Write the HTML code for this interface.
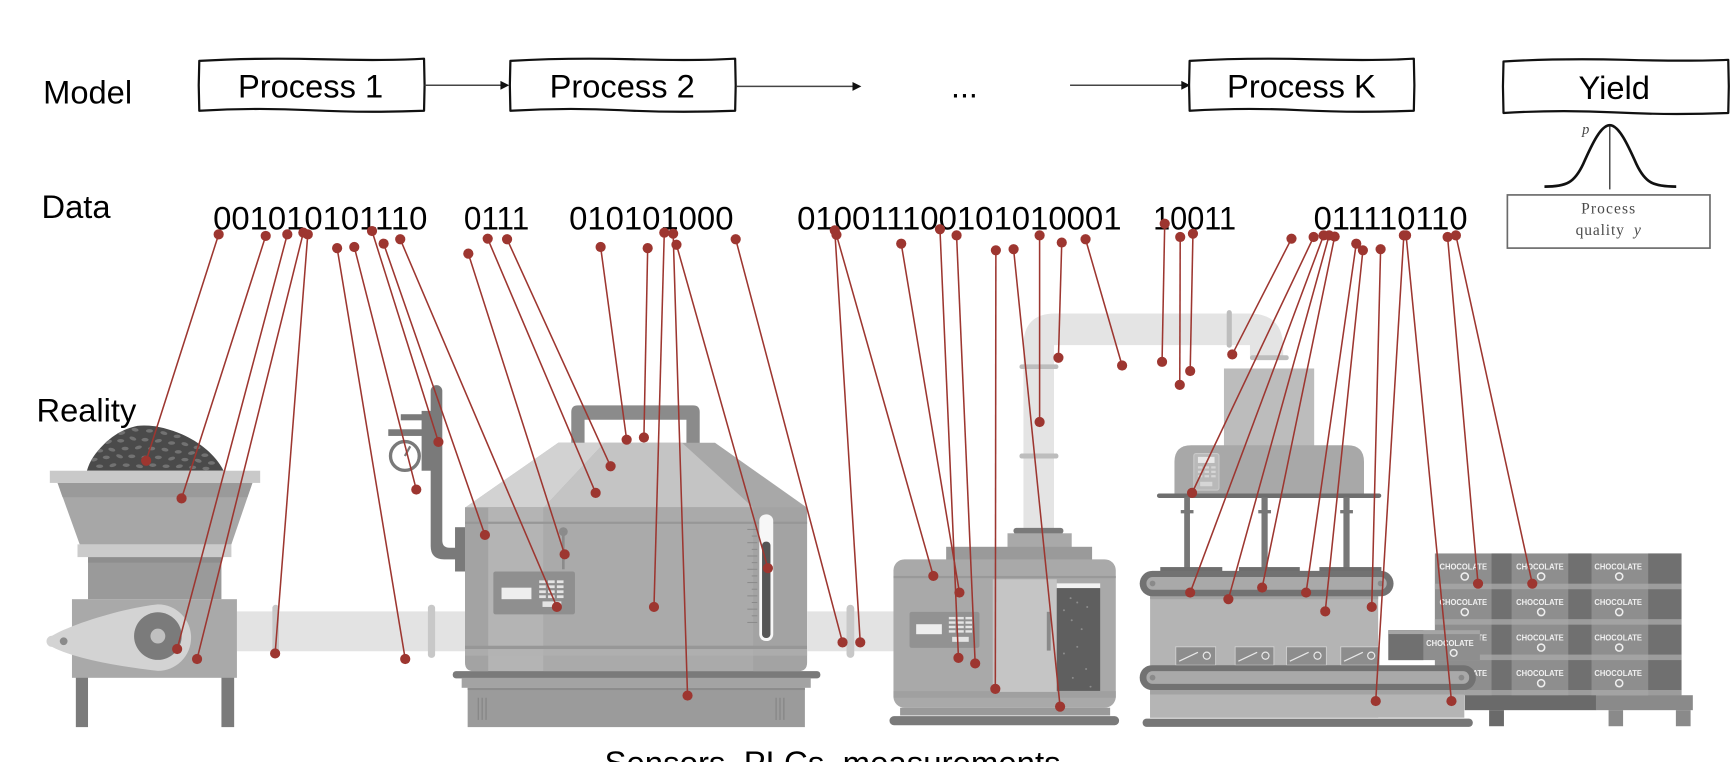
<!DOCTYPE html>
<html><head><meta charset="utf-8"><style>
html,body{margin:0;padding:0;background:#fff;}
svg{display:block;}
text{font-family:"Liberation Sans",Arial,sans-serif;}
</style></head><body>
<svg width="1736" height="762" viewBox="0 0 1568 688" preserveAspectRatio="none" xmlns="http://www.w3.org/2000/svg">
<rect x="0" y="0" width="1568" height="688" fill="#fff"/>
<defs>
<clipPath id="mound"><path d="M78.5,425 C81,416 86,409 94,401 C102,393 112,387 124,384.5 C138,383 152,387 164,392 C180,399 194,410 202,425 Z"/></clipPath>
</defs>

<text x="39" y="93.5" font-size="29.5" fill="#000">Model</text>
<text x="37.5" y="197" font-size="29.5" fill="#000">Data</text>
<text x="33" y="380.5" font-size="29.5" fill="#000">Reality</text>

<g fill="#fff" stroke="#111" stroke-width="2" stroke-linejoin="round">
<path d="M180,55 Q230,52 290,53.5 T383,53 L383.5,77 L383,100 Q330,102 280,99.5 T180,100 L179.5,77 Z"/>
<path d="M461,55 Q511,52 571,53.5 T664,53 L664.5,77 L664,100 Q611,102 561,99.5 T461,100 L460.5,77 Z"/>
<path d="M1074.5,55 Q1124,52 1184,53.5 T1277,53 L1277.5,77 L1277,100 Q1224,102 1174,99.5 T1074.5,100 L1074,77 Z"/>
<path d="M1358,55.5 Q1408,52.5 1468,54 T1561,54 L1561.5,78 L1561,102 Q1508,104 1458,101.5 T1358,102 L1357.5,78 Z"/>
</g>
<text x="280.5" y="88" font-size="29.5" text-anchor="middle" fill="#000">Process 1</text>
<text x="562" y="88" font-size="29.5" text-anchor="middle" fill="#000">Process 2</text>
<text x="1175.5" y="88" font-size="29.5" text-anchor="middle" fill="#000">Process K</text>
<text x="1458" y="89.5" font-size="29.5" text-anchor="middle" fill="#000">Yield</text>
<text x="859" y="88" font-size="29" fill="#000">...</text>

<g stroke="#444" stroke-width="1.4">
<line x1="383.5" y1="77" x2="453" y2="77"/>
<line x1="665" y1="78" x2="771" y2="78"/>
<line x1="966.5" y1="77" x2="1068" y2="77"/>
</g>
<g fill="#111">
<polygon points="460,77 452,73 452,81"/>
<polygon points="778,78 770,74 770,82"/>
<polygon points="1075,77 1067,73 1067,81"/>
</g>

<path d="M1395,168.5 C1415,168.5 1422,165 1430,148 C1438,130 1446,113 1454,113 C1462,113 1470,130 1478,148 C1486,165 1493,168.5 1514,168.5" fill="none" stroke="#111" stroke-width="2.4"/>
<line x1="1454" y1="114" x2="1454" y2="171" stroke="#333" stroke-width="1.2"/>
<text x="1429" y="121" font-size="13" font-style="italic" fill="#444" style="font-family:'Liberation Serif',serif">p</text>
<rect x="1361.5" y="176" width="183" height="48" fill="#fff" stroke="#6a6a6a" stroke-width="1.5"/>
<text x="1453" y="193" font-size="14" fill="#4a4a4a" text-anchor="middle" style="font-family:'Liberation Serif',serif" letter-spacing="1">Process</text>
<text x="1453" y="212" font-size="14" fill="#4a4a4a" text-anchor="middle" style="font-family:'Liberation Serif',serif" letter-spacing="0.8">quality <tspan font-style="italic" dx="4">y</tspan></text>

<g font-size="29" fill="#000">
<text x="192.5" y="207" textLength="193.5" lengthAdjust="spacingAndGlyphs">001010101110</text>
<text x="419" y="207" textLength="59" lengthAdjust="spacingAndGlyphs">0111</text>
<text x="514" y="207" textLength="148.5" lengthAdjust="spacingAndGlyphs">010101000</text>
<text x="720" y="207" textLength="293" lengthAdjust="spacingAndGlyphs">010011100101010001</text>
<text x="1041.5" y="207" textLength="75" lengthAdjust="spacingAndGlyphs">10011</text>
<text x="1186.5" y="207" textLength="139" lengthAdjust="spacingAndGlyphs">011110110</text>
</g>

<!-- Machine 1 -->
<rect x="68.5" y="608" width="11" height="48.5" fill="#7b7b7b"/>
<rect x="200" y="608" width="11.5" height="48.5" fill="#7b7b7b"/>
<rect x="214" y="552" width="210" height="36" fill="#e3e3e3"/>
<rect x="246" y="546" width="6" height="48" rx="3" fill="#c8c8c8"/>
<rect x="386.5" y="546" width="6.5" height="48" rx="3" fill="#c8c8c8"/>
<rect x="65" y="541" width="149" height="71" fill="#a9a9a9"/>
<rect x="79.5" y="503" width="120.5" height="38" fill="#9a9a9a"/>
<rect x="79.5" y="503" width="120.5" height="5" fill="#8e8e8e"/>
<rect x="70" y="491.5" width="139" height="11.5" fill="#cbcbcb"/>
<polygon points="52,436 228,436 209,491.5 72,491.5" fill="#a7a7a7"/>
<polygon points="52,436 228,436 223.5,449 56.5,449" fill="#9a9a9a"/>
<path d="M78.5,425 C81,416 86,409 94,401 C102,393 112,387 124,384.5 C138,383 152,387 164,392 C180,399 194,410 202,425 Z" fill="#4a4a4a"/>
<g clip-path="url(#mound)" fill="#727272">
<ellipse cx="110" cy="391" rx="3.2" ry="1.6" transform="rotate(-15 110 391)"/>
<ellipse cx="122" cy="388" rx="3.2" ry="1.6" transform="rotate(10 122 388)"/>
<ellipse cx="135" cy="389" rx="3.2" ry="1.6"/>
<ellipse cx="148" cy="391" rx="3.2" ry="1.6" transform="rotate(15 148 391)"/>
<ellipse cx="160" cy="394" rx="3.2" ry="1.6"/>
<ellipse cx="98" cy="399" rx="3.2" ry="1.6" transform="rotate(-20 98 399)"/>
<ellipse cx="109" cy="398" rx="3.2" ry="1.6"/>
<ellipse cx="120" cy="396" rx="3.2" ry="1.6" transform="rotate(20 120 396)"/>
<ellipse cx="131" cy="397" rx="3.2" ry="1.6"/>
<ellipse cx="143" cy="398" rx="3.2" ry="1.6" transform="rotate(-10 143 398)"/>
<ellipse cx="155" cy="400" rx="3.2" ry="1.6"/>
<ellipse cx="167" cy="401" rx="3.2" ry="1.6" transform="rotate(15 167 401)"/>
<ellipse cx="178" cy="404" rx="3.2" ry="1.6"/>
<ellipse cx="90" cy="407" rx="3.2" ry="1.6"/>
<ellipse cx="101" cy="406" rx="3.2" ry="1.6" transform="rotate(15 101 406)"/>
<ellipse cx="113" cy="405" rx="3.2" ry="1.6"/>
<ellipse cx="125" cy="404" rx="3.2" ry="1.6" transform="rotate(-15 125 404)"/>
<ellipse cx="137" cy="405" rx="3.2" ry="1.6"/>
<ellipse cx="149" cy="406" rx="3.2" ry="1.6" transform="rotate(10 149 406)"/>
<ellipse cx="161" cy="408" rx="3.2" ry="1.6"/>
<ellipse cx="173" cy="409" rx="3.2" ry="1.6" transform="rotate(-10 173 409)"/>
<ellipse cx="185" cy="411" rx="3.2" ry="1.6"/>
<ellipse cx="85" cy="415" rx="3.2" ry="1.6" transform="rotate(-10 85 415)"/>
<ellipse cx="96" cy="413" rx="3.2" ry="1.6"/>
<ellipse cx="108" cy="412" rx="3.2" ry="1.6" transform="rotate(20 108 412)"/>
<ellipse cx="119" cy="412" rx="3.2" ry="1.6"/>
<ellipse cx="131" cy="413" rx="3.2" ry="1.6"/>
<ellipse cx="143" cy="413" rx="3.2" ry="1.6"/>
<ellipse cx="155" cy="414" rx="3.2" ry="1.6" transform="rotate(-15 155 414)"/>
<ellipse cx="167" cy="415" rx="3.2" ry="1.6"/>
<ellipse cx="179" cy="416" rx="3.2" ry="1.6" transform="rotate(15 179 416)"/>
<ellipse cx="191" cy="418" rx="3.2" ry="1.6"/>
<ellipse cx="90" cy="421" rx="3.2" ry="1.6"/>
<ellipse cx="102" cy="420" rx="3.2" ry="1.6" transform="rotate(-15 102 420)"/>
<ellipse cx="114" cy="420" rx="3.2" ry="1.6"/>
<ellipse cx="126" cy="421" rx="3.2" ry="1.6" transform="rotate(10 126 421)"/>
<ellipse cx="138" cy="420" rx="3.2" ry="1.6"/>
<ellipse cx="150" cy="421" rx="3.2" ry="1.6"/>
<ellipse cx="162" cy="421" rx="3.2" ry="1.6" transform="rotate(-10 162 421)"/>
<ellipse cx="174" cy="422" rx="3.2" ry="1.6"/>
<ellipse cx="186" cy="423" rx="3.2" ry="1.6"/>
</g>
<rect x="45" y="425" width="190" height="11" fill="#c9c9c9"/>
<path d="M47,574 C70,561 118,548 142.6,545.7 A30 30 0 0 1 142.6,605.7 C118,603 70,596 47,584 A5 5 0 0 1 47,574 Z" fill="#d3d3d3"/>
<circle cx="57.5" cy="579" r="3.5" fill="#8a8a8a"/>
<circle cx="142.6" cy="574.3" r="21.5" fill="#7b7b7b"/>
<circle cx="142.6" cy="574.3" r="6.7" fill="#c0c0c0"/>

<!-- Machine 2 -->
<path d="M389,353 A5 5 0 0 1 399.5,353 L399.5,488 Q399.5,494.5 406,494.5 L419,494.5 L419,505 L401,505 Q389,505 389,493 Z" fill="#7a7a7a"/>
<rect x="380.8" y="371" width="9" height="54" fill="#7a7a7a"/>
<rect x="350.7" y="387.6" width="31" height="6" fill="#7a7a7a"/>
<rect x="362" y="374" width="20" height="5.5" fill="#7a7a7a"/>
<circle cx="365.7" cy="411.7" r="13" fill="#fff" stroke="#7a7a7a" stroke-width="3"/>
<line x1="365.7" y1="411.7" x2="370.5" y2="403" stroke="#7a7a7a" stroke-width="2"/>
<rect x="411" y="476" width="9" height="40" fill="#7a7a7a"/>
<path d="M516,372 Q516,366 522,366 L626,366 Q632,366 632,372 L632,402 L620,402 L620,379 L528,379 L528,402 L516,402 Z" fill="#8b8b8b"/>
<polygon points="504.3,399.7 645.8,399.7 729,458.4 420,458.4" fill="#a8a8a8"/>
<polygon points="504.3,399.7 546,399.7 491,458.4 420,458.4" fill="#d2d2d2"/>
<polygon points="546,399.7 616,399.7 680.4,458.4 491,458.4" fill="#c4c4c4"/>
<path d="M420,458 L729,458 L729,598 Q729,606 721,606 L428,606 Q420,606 420,598 Z" fill="#a3a3a3"/>
<rect x="441" y="458" width="239.4" height="148" fill="#aaaaaa"/>
<rect x="441" y="458" width="49.7" height="148" fill="#b4b4b4"/>
<rect x="420" y="471" width="309" height="2" fill="#979797"/>
<rect x="420" y="583" width="309" height="3" fill="#979797"/>
<rect x="420" y="586" width="309" height="6" fill="#b2b2b2" opacity="0.6"/>
<circle cx="508.8" cy="480" r="4" fill="#8b8b8b"/>
<rect x="507.6" y="480" width="2.4" height="34" fill="#8b8b8b"/>
<rect x="445.6" y="516" width="73.7" height="38.7" rx="2" fill="#8f8f8f"/>
<rect x="453" y="530.6" width="27" height="10.4" fill="#eeeeee"/>
<g fill="#e4e4e4">
<rect x="487" y="524" width="6" height="2.5"/><rect x="495" y="524" width="6" height="2.5"/><rect x="503" y="524" width="6" height="2.5"/>
<rect x="487" y="528.5" width="6" height="2.5"/><rect x="495" y="528.5" width="6" height="2.5"/><rect x="503" y="528.5" width="6" height="2.5"/>
<rect x="487" y="533" width="6" height="2.5"/><rect x="495" y="533" width="6" height="2.5"/><rect x="503" y="533" width="6" height="2.5"/>
<rect x="487" y="537.5" width="6" height="2.5"/><rect x="495" y="537.5" width="6" height="2.5"/><rect x="503" y="537.5" width="6" height="2.5"/>
<rect x="490" y="543" width="17" height="5"/>
</g>
<g stroke="#8a8a8a" stroke-width="0.9">
<line x1="675" y1="478" x2="684" y2="478"/><line x1="679" y1="484" x2="684" y2="484"/><line x1="675" y1="490" x2="684" y2="490"/><line x1="679" y1="496" x2="684" y2="496"/><line x1="675" y1="502" x2="684" y2="502"/><line x1="679" y1="508" x2="684" y2="508"/><line x1="675" y1="514" x2="684" y2="514"/><line x1="679" y1="520" x2="684" y2="520"/><line x1="675" y1="526" x2="684" y2="526"/><line x1="679" y1="532" x2="684" y2="532"/><line x1="675" y1="538" x2="684" y2="538"/><line x1="679" y1="544" x2="684" y2="544"/><line x1="675" y1="550" x2="684" y2="550"/><line x1="679" y1="556" x2="684" y2="556"/><line x1="675" y1="562" x2="684" y2="562"/>
</g>
<rect x="685.8" y="464.4" width="12.6" height="114.4" rx="6" fill="#f7f7f7"/>
<rect x="688.3" y="489" width="7.6" height="87" rx="3.5" fill="#555"/>
<rect x="408.9" y="606" width="332.1" height="6.5" rx="3" fill="#7a7a7a"/>
<rect x="417" y="612" width="315.3" height="9" fill="#a3a3a3"/>
<rect x="422.4" y="621" width="304.6" height="35.5" fill="#9b9b9b"/>
<rect x="422.4" y="621" width="304.6" height="2" fill="#8c8c8c"/>
<g stroke="#878787" stroke-width="1.2">
<line x1="432" y1="630" x2="432" y2="650"/><line x1="435.5" y1="630" x2="435.5" y2="650"/><line x1="439" y1="630" x2="439" y2="650"/>
<line x1="701" y1="630" x2="701" y2="650"/><line x1="704.5" y1="630" x2="704.5" y2="650"/><line x1="708" y1="630" x2="708" y2="650"/>
</g>
<rect x="729" y="552" width="80" height="36" fill="#e3e3e3"/>
<rect x="764.6" y="546" width="7" height="48" rx="3.5" fill="#c8c8c8"/>

<!-- Machine 3 -->
<path d="M924.4,479 L924.4,312 Q924.4,283 953,283 L1128,283 Q1159,283 1159,314 L1159,322 L1129,322 L1129,311.6 L952,311.6 L952,479 Z" fill="#e4e4e4"/>
<rect x="1108" y="280" width="4.6" height="34" rx="2.3" fill="#bdbdbd"/>
<rect x="1129" y="320.7" width="35" height="4.5" rx="2" fill="#bdbdbd"/>
<rect x="920.8" y="329" width="35.2" height="4.2" rx="2" fill="#bdbdbd"/>
<rect x="920.8" y="409.5" width="35.2" height="4.5" rx="2" fill="#bdbdbd"/>
<rect x="915.4" y="476.6" width="45.1" height="5.5" rx="2.5" fill="#7a7a7a"/>
<rect x="910" y="481.5" width="58" height="12.5" fill="#a9a9a9"/>
<rect x="854.6" y="493.7" width="131.8" height="12.3" fill="#9a9a9a"/>
<rect x="807" y="505" width="200.8" height="134" rx="10" fill="#a9a9a9"/>
<rect x="807" y="520" width="200.8" height="2" fill="#999"/>
<rect x="807" y="624" width="200.8" height="6" fill="#a0a0a0"/>
<rect x="821.5" y="552.4" width="63.2" height="32.6" rx="2" fill="#929292"/>
<rect x="827.5" y="563.6" width="23.2" height="9" fill="#eeeeee"/>
<g fill="#e4e4e4">
<rect x="857" y="557" width="6" height="2.2"/><rect x="864.5" y="557" width="6" height="2.2"/><rect x="872" y="557" width="6" height="2.2"/>
<rect x="857" y="561" width="6" height="2.2"/><rect x="864.5" y="561" width="6" height="2.2"/><rect x="872" y="561" width="6" height="2.2"/>
<rect x="857" y="565" width="6" height="2.2"/><rect x="864.5" y="565" width="6" height="2.2"/><rect x="872" y="565" width="6" height="2.2"/>
<rect x="857" y="569" width="6" height="2.2"/><rect x="864.5" y="569" width="6" height="2.2"/><rect x="872" y="569" width="6" height="2.2"/>
<rect x="860" y="575" width="15" height="4.5"/>
</g>
<rect x="896.7" y="523" width="57.8" height="101.7" fill="#c5c5c5"/>
<rect x="945.5" y="552.4" width="3.5" height="35" fill="#8a8a8a"/>
<rect x="954.5" y="526.7" width="39.2" height="4.5" fill="#f2f2f2"/>
<rect x="954.5" y="531" width="39.2" height="92.8" fill="#5f5f5f"/>
<g fill="#8c8c8c">
<circle cx="967" cy="540" r="0.9"/><circle cx="973" cy="544" r="0.9"/><circle cx="961" cy="551" r="0.9"/><circle cx="982" cy="548" r="0.9"/><circle cx="968" cy="560" r="0.9"/><circle cx="977" cy="568" r="0.9"/><circle cx="961" cy="590" r="0.9"/><circle cx="973" cy="584" r="0.9"/><circle cx="981" cy="604" r="0.9"/><circle cx="969" cy="612" r="0.9"/><circle cx="985" cy="620" r="0.9"/>
</g>
<rect x="813" y="639" width="189.7" height="7" fill="#9a9a9a"/>
<rect x="803.4" y="646.6" width="207.4" height="8.2" rx="4" fill="#7a7a7a"/>

<!-- Pallet -->
<rect x="1296" y="499.7" width="222.8" height="128" fill="#8e8e8e"/>
<g fill="#707070">
<rect x="1347.2" y="499.7" width="18.1" height="128"/>
<rect x="1416.5" y="499.7" width="21" height="128"/>
<rect x="1488.7" y="499.7" width="30.1" height="128"/>
</g>
<g fill="#ababab" opacity="0.75">
<rect x="1296" y="527" width="222.8" height="5"/>
<rect x="1296" y="559" width="222.8" height="5"/>
<rect x="1296" y="591" width="222.8" height="5"/>
<rect x="1296" y="623" width="222.8" height="4.7"/>
</g>
<g font-size="7.2" font-weight="bold" fill="#f0f0f0" text-anchor="middle">
<text x="1321.7" y="514.2" textLength="43" lengthAdjust="spacingAndGlyphs">CHOCOLATE</text>
<text x="1390.9" y="514.2" textLength="43" lengthAdjust="spacingAndGlyphs">CHOCOLATE</text>
<text x="1461.6" y="514.2" textLength="43" lengthAdjust="spacingAndGlyphs">CHOCOLATE</text>
<text x="1321.7" y="546.3" textLength="43" lengthAdjust="spacingAndGlyphs">CHOCOLATE</text>
<text x="1390.9" y="546.3" textLength="43" lengthAdjust="spacingAndGlyphs">CHOCOLATE</text>
<text x="1461.6" y="546.3" textLength="43" lengthAdjust="spacingAndGlyphs">CHOCOLATE</text>
<text x="1321.7" y="578.4" textLength="43" lengthAdjust="spacingAndGlyphs">CHOCOLATE</text>
<text x="1390.9" y="578.4" textLength="43" lengthAdjust="spacingAndGlyphs">CHOCOLATE</text>
<text x="1461.6" y="578.4" textLength="43" lengthAdjust="spacingAndGlyphs">CHOCOLATE</text>
<text x="1321.7" y="610.5" textLength="43" lengthAdjust="spacingAndGlyphs">CHOCOLATE</text>
<text x="1390.9" y="610.5" textLength="43" lengthAdjust="spacingAndGlyphs">CHOCOLATE</text>
<text x="1461.6" y="610.5" textLength="43" lengthAdjust="spacingAndGlyphs">CHOCOLATE</text>
</g>
<g fill="none" stroke="#eeeeee" stroke-width="1.4">
<circle cx="1323" cy="520.5" r="3.2"/><circle cx="1392" cy="520.5" r="3.2"/><circle cx="1462.5" cy="520.5" r="3.2"/>
<circle cx="1323" cy="552.6" r="3.2"/><circle cx="1392" cy="552.6" r="3.2"/><circle cx="1462.5" cy="552.6" r="3.2"/>
<circle cx="1323" cy="584.7" r="3.2"/><circle cx="1392" cy="584.7" r="3.2"/><circle cx="1462.5" cy="584.7" r="3.2"/>
<circle cx="1392" cy="616.8" r="3.2"/><circle cx="1462.5" cy="616.8" r="3.2"/>
</g>
<rect x="1254" y="569" width="82.7" height="27" fill="#8e8e8e"/>
<rect x="1254" y="569" width="31.6" height="27" fill="#707070"/>
<rect x="1254" y="569" width="82.7" height="3.5" fill="#a5a5a5"/>
<text x="1309.6" y="583.5" font-size="7.2" font-weight="bold" fill="#f0f0f0" text-anchor="middle" textLength="43" lengthAdjust="spacingAndGlyphs">CHOCOLATE</text>
<circle cx="1313" cy="589.5" r="3" fill="none" stroke="#eee" stroke-width="1.3"/>
<rect x="1323" y="627.7" width="118.6" height="13.5" fill="#6a6a6a"/>
<rect x="1441.5" y="627.7" width="87.5" height="13.5" fill="#8a8a8a"/>
<rect x="1345" y="641.2" width="13.4" height="14.5" fill="#6a6a6a"/>
<rect x="1452.9" y="641.2" width="13.1" height="14.5" fill="#8a8a8a"/>
<rect x="1513.7" y="641.2" width="13.3" height="14.5" fill="#8a8a8a"/>

<!-- Machine 4 -->
<rect x="1105.5" y="332.7" width="81.5" height="70" fill="#bcbcbc"/>
<path d="M1060.8,446 L1060.8,417 Q1060.8,402 1076,402 L1217,402 Q1232,402 1232,417 L1232,446 Z" fill="#a8a8a8"/>
<rect x="1078.3" y="409.5" width="22.7" height="33" rx="2" fill="#b9b9b9" stroke="#c9c9c9" stroke-width="1"/>
<rect x="1082" y="412.5" width="15" height="5.5" fill="#e8e8e8"/>
<g fill="#d6d6d6">
<rect x="1082" y="421" width="4" height="2"/><rect x="1088" y="421" width="4" height="2"/><rect x="1094" y="421" width="4" height="2"/>
<rect x="1082" y="425" width="4" height="2"/><rect x="1088" y="425" width="4" height="2"/><rect x="1094" y="425" width="4" height="2"/>
<rect x="1082" y="429" width="4" height="2"/><rect x="1088" y="429" width="4" height="2"/><rect x="1094" y="429" width="4" height="2"/>
<rect x="1084" y="435" width="11" height="4"/>
</g>
<rect x="1045" y="445.6" width="202.6" height="4" rx="2" fill="#6e6e6e"/>
<g fill="#777">
<rect x="1069.6" y="449" width="5.2" height="64"/>
<rect x="1139.4" y="449" width="5.6" height="64"/>
<rect x="1213.4" y="449" width="5.6" height="64"/>
<rect x="1066.5" y="460.5" width="11.5" height="3"/>
<rect x="1136.5" y="460.5" width="11.5" height="3"/>
<rect x="1210.5" y="460.5" width="11.5" height="3"/>
</g>
<g fill="#6e6e6e">
<rect x="1048" y="512" width="56" height="5"/>
<rect x="1119" y="512" width="55" height="5"/>
<rect x="1191.7" y="512" width="56" height="5"/>
</g>
<rect x="1038.8" y="536" width="206" height="112" fill="#b4b4b4"/>
<rect x="1038.8" y="538" width="206" height="3" fill="#a2a2a2"/>
<rect x="1029.4" y="515.4" width="229.3" height="23" rx="11.5" fill="#727272"/>
<rect x="1035.5" y="521" width="217" height="11.5" rx="5.5" fill="#a9a9a9"/>
<circle cx="1041" cy="526.8" r="2.6" fill="#8a8a8a"/>
<circle cx="1247" cy="526.8" r="2.6" fill="#8a8a8a"/>
<g fill="#8d8d8d" stroke="#d0d0d0" stroke-width="0.8">
<rect x="1062" y="584" width="36" height="16.6"/>
<rect x="1115.6" y="584" width="35" height="16.6"/>
<rect x="1162" y="584" width="36" height="16.6"/>
<rect x="1211" y="584" width="35" height="16.6"/>
</g>
<g stroke="#e8e8e8" stroke-width="1.1" fill="none">
<line x1="1065" y1="597" x2="1082" y2="589"/><circle cx="1090" cy="592" r="3.2"/>
<line x1="1118.5" y1="597" x2="1135.5" y2="589"/><circle cx="1143" cy="592" r="3.2"/>
<line x1="1165" y1="597" x2="1182" y2="589"/><circle cx="1190" cy="592" r="3.2"/>
<line x1="1214" y1="597" x2="1231" y2="589"/><circle cx="1238.5" cy="592" r="3.2"/>
</g>
<rect x="1038.8" y="621" width="283.8" height="27" fill="#b5b5b5"/>
<rect x="1029.4" y="600.6" width="303.6" height="22.4" rx="11" fill="#727272"/>
<rect x="1035.5" y="606" width="291.5" height="11.5" rx="5.5" fill="#a9a9a9"/>
<circle cx="1041" cy="611.8" r="2.6" fill="#8a8a8a"/>
<circle cx="1320" cy="611.8" r="2.6" fill="#8a8a8a"/>
<rect x="1038.8" y="623" width="283.8" height="4" fill="#a3a3a3"/>
<rect x="1032" y="648.8" width="298.3" height="7.5" rx="3.7" fill="#777"/>

<text x="546" y="699" font-size="29.5" fill="#000" textLength="412" lengthAdjust="spacingAndGlyphs">Sensors, PLCs, measurements</text>

<!-- connectors -->
<g stroke="#9d3630" stroke-width="1.4" fill="none">
<path d="M197.5,211.6 L132,416"/>
<path d="M240,213 L164,450"/>
<path d="M259.5,211.6 L160,586"/>
<path d="M274,210 L178,595"/>
<path d="M278,211.6 L248.5,590"/>
<path d="M304.5,224 L366,595"/>
<path d="M320,223 L376,442"/>
<path d="M336,208.6 L396,399"/>
<path d="M346.5,220 L438,483"/>
<path d="M361.5,216 L503,548"/>
<path d="M423,229 L510,500.5"/>
<path d="M440.5,215.5 L538,445"/>
<path d="M458,216 L551.5,421"/>
<path d="M542.5,223 L566,397"/>
<path d="M585,224 L581.6,395"/>
<path d="M600,210 L590.7,548"/>
<path d="M608,211 L621,628"/>
<path d="M611,221 L693.6,513"/>
<path d="M664.5,216 L761,580"/>
<path d="M754,208 L777,580"/>
<path d="M755.5,212 L843,520"/>
<path d="M814,220 L866.6,535"/>
<path d="M849,207 L865.7,594"/>
<path d="M864,212.5 L880.8,599"/>
<path d="M899.5,226 L899,622"/>
<path d="M915.5,225 L957.5,638"/>
<path d="M939,212.5 L939,381"/>
<path d="M959,219 L956,323"/>
<path d="M980.5,216 L1013.5,330"/>
<path d="M1052,202 L1049.6,326.7"/>
<path d="M1066,214 L1065.6,347.5"/>
<path d="M1077.5,211 L1075,335"/>
<path d="M1166.5,215.5 L1113,320"/>
<path d="M1186.5,214 L1076.7,445"/>
<path d="M1195.5,212.5 L1075,535"/>
<path d="M1200.5,212.5 L1109.5,541"/>
<path d="M1205.5,213.6 L1140,530.5"/>
<path d="M1225,220 L1179.7,535"/>
<path d="M1231,226 L1197,552"/>
<path d="M1247,225 L1239,548"/>
<path d="M1268,212.5 L1242.6,633"/>
<path d="M1270,212.5 L1311,633"/>
<path d="M1307.5,214 L1335,527"/>
<path d="M1315,212.5 L1384,527"/>
</g>
<g fill="#9d3630">
<circle cx="197.5" cy="211.6" r="4.6"/><circle cx="132" cy="416" r="4.6"/>
<circle cx="240" cy="213" r="4.6"/><circle cx="164" cy="450" r="4.6"/>
<circle cx="259.5" cy="211.6" r="4.6"/><circle cx="160" cy="586" r="4.6"/>
<circle cx="274" cy="210" r="4.6"/><circle cx="178" cy="595" r="4.6"/>
<circle cx="278" cy="211.6" r="4.6"/><circle cx="248.5" cy="590" r="4.6"/>
<circle cx="304.5" cy="224" r="4.6"/><circle cx="366" cy="595" r="4.6"/>
<circle cx="320" cy="223" r="4.6"/><circle cx="376" cy="442" r="4.6"/>
<circle cx="336" cy="208.6" r="4.6"/><circle cx="396" cy="399" r="4.6"/>
<circle cx="346.5" cy="220" r="4.6"/><circle cx="438" cy="483" r="4.6"/>
<circle cx="361.5" cy="216" r="4.6"/><circle cx="503" cy="548" r="4.6"/>
<circle cx="423" cy="229" r="4.6"/><circle cx="510" cy="500.5" r="4.6"/>
<circle cx="440.5" cy="215.5" r="4.6"/><circle cx="538" cy="445" r="4.6"/>
<circle cx="458" cy="216" r="4.6"/><circle cx="551.5" cy="421" r="4.6"/>
<circle cx="542.5" cy="223" r="4.6"/><circle cx="566" cy="397" r="4.6"/>
<circle cx="585" cy="224" r="4.6"/><circle cx="581.6" cy="395" r="4.6"/>
<circle cx="600" cy="210" r="4.6"/><circle cx="590.7" cy="548" r="4.6"/>
<circle cx="608" cy="211" r="4.6"/><circle cx="621" cy="628" r="4.6"/>
<circle cx="611" cy="221" r="4.6"/><circle cx="693.6" cy="513" r="4.6"/>
<circle cx="664.5" cy="216" r="4.6"/><circle cx="761" cy="580" r="4.6"/>
<circle cx="754" cy="208" r="4.6"/><circle cx="777" cy="580" r="4.6"/>
<circle cx="755.5" cy="212" r="4.6"/><circle cx="843" cy="520" r="4.6"/>
<circle cx="814" cy="220" r="4.6"/><circle cx="866.6" cy="535" r="4.6"/>
<circle cx="849" cy="207" r="4.6"/><circle cx="865.7" cy="594" r="4.6"/>
<circle cx="864" cy="212.5" r="4.6"/><circle cx="880.8" cy="599" r="4.6"/>
<circle cx="899.5" cy="226" r="4.6"/><circle cx="899" cy="622" r="4.6"/>
<circle cx="915.5" cy="225" r="4.6"/><circle cx="957.5" cy="638" r="4.6"/>
<circle cx="939" cy="212.5" r="4.6"/><circle cx="939" cy="381" r="4.6"/>
<circle cx="959" cy="219" r="4.6"/><circle cx="956" cy="323" r="4.6"/>
<circle cx="980.5" cy="216" r="4.6"/><circle cx="1013.5" cy="330" r="4.6"/>
<circle cx="1052" cy="202" r="4.6"/><circle cx="1049.6" cy="326.7" r="4.6"/>
<circle cx="1066" cy="214" r="4.6"/><circle cx="1065.6" cy="347.5" r="4.6"/>
<circle cx="1077.5" cy="211" r="4.6"/><circle cx="1075" cy="335" r="4.6"/>
<circle cx="1166.5" cy="215.5" r="4.6"/><circle cx="1113" cy="320" r="4.6"/>
<circle cx="1186.5" cy="214" r="4.6"/><circle cx="1076.7" cy="445" r="4.6"/>
<circle cx="1195.5" cy="212.5" r="4.6"/><circle cx="1075" cy="535" r="4.6"/>
<circle cx="1200.5" cy="212.5" r="4.6"/><circle cx="1109.5" cy="541" r="4.6"/>
<circle cx="1205.5" cy="213.6" r="4.6"/><circle cx="1140" cy="530.5" r="4.6"/>
<circle cx="1225" cy="220" r="4.6"/><circle cx="1179.7" cy="535" r="4.6"/>
<circle cx="1231" cy="226" r="4.6"/><circle cx="1197" cy="552" r="4.6"/>
<circle cx="1247" cy="225" r="4.6"/><circle cx="1239" cy="548" r="4.6"/>
<circle cx="1268" cy="212.5" r="4.6"/><circle cx="1242.6" cy="633" r="4.6"/>
<circle cx="1270" cy="212.5" r="4.6"/><circle cx="1311" cy="633" r="4.6"/>
<circle cx="1307.5" cy="214" r="4.6"/><circle cx="1335" cy="527" r="4.6"/>
<circle cx="1315" cy="212.5" r="4.6"/><circle cx="1384" cy="527" r="4.6"/>
</g>
</svg>
</body></html>
